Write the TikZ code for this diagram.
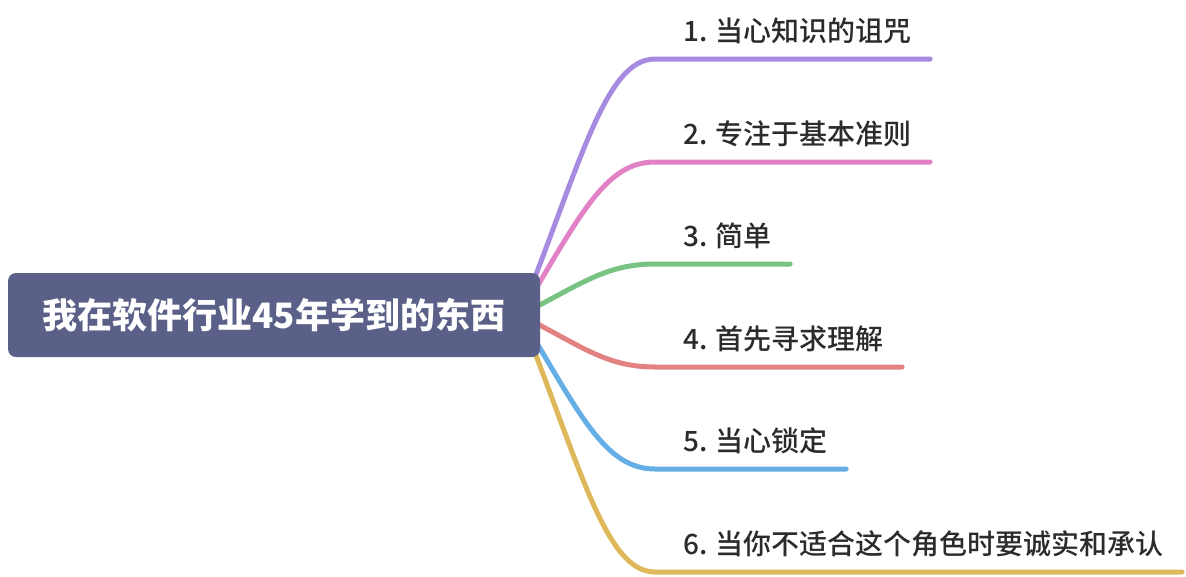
\documentclass[tikz,border=0pt]{standalone}
\usepackage{fontspec}
\setmainfont{Noto Sans CJK SC}
\newfontfamily\topicfont{Noto Sans CJK SC Medium}
\usepackage{xcolor}
\usepackage{tikz}
\usetikzlibrary{calc}

\definecolor{rootblue}{HTML}{5A6087}
\definecolor{topictext}{HTML}{2B2B2B}
\definecolor{brpurple}{HTML}{A68BE0}
\definecolor{brpink}{HTML}{E281C6}
\definecolor{brgreen}{HTML}{78C282}
\definecolor{brred}{HTML}{E28282}
\definecolor{brblue}{HTML}{65AEE6}
\definecolor{brgold}{HTML}{DEB85B}

\pgfdeclarelayer{bg}
\pgfsetlayers{bg,main}

\begin{document}
\begin{tikzpicture}[
  x=1pt, y=1pt,
  rootbox/.style={rectangle, rounded corners=8pt, fill=rootblue, text=white,
                  minimum width=532pt, minimum height=84pt, inner sep=0pt,
                  font=\fontsize{35}{40}\selectfont\bfseries},
  topic/.style={anchor=base west, inner sep=0pt, text=topictext,
                font=\topicfont\fontsize{28}{33}\selectfont},
  branch/.style={line width=5pt, line cap=round, line join=round}
]
\useasboundingbox (0,0) rectangle (1186,-576);

% ── Central topic ──
\node[rootbox] (root) at (274,-315) {我在软件行业45年学到的东西};
\coordinate (hub) at ($(root.east)+(-20,0)$);

% ── Subtopics ──
\node[topic] (t1) at (683,-41)  {1. 当心知识的诅咒};
\node[topic] (t2) at (683,-144) {2. 专注于基本准则};
\node[topic] (t3) at (683,-246) {3. 简单};
\node[topic] (t4) at (683,-349) {4. 首先寻求理解};
\node[topic] (t5) at (683,-451) {5. 当心锁定};
\node[topic] (t6) at (683,-554) {6. 当你不适合这个角色时要诚实和承认};

% ── Branches, behind the central topic ──
\begin{pgfonlayer}{bg}
\draw[branch, brpurple] (hub) .. controls +(60,150) and +(-50,0) ..
  ($(t1.base west)+(-28,-18)$) -- ($(t1.base east)+(18,-18)$);
\draw[branch, brpink] (hub) .. controls +(60,100) and +(-50,0) ..
  ($(t2.base west)+(-28,-18)$) -- ($(t2.base east)+(18,-18)$);
\draw[branch, brgreen] (hub) .. controls +(60,30) and +(-50,0) ..
  ($(t3.base west)+(-28,-18)$) -- ($(t3.base east)+(18,-18)$);
\draw[branch, brred] (hub) .. controls +(60,-30) and +(-50,0) ..
  ($(t4.base west)+(-28,-18)$) -- ($(t4.base east)+(18,-18)$);
\draw[branch, brblue] (hub) .. controls +(60,-100) and +(-50,0) ..
  ($(t5.base west)+(-28,-18)$) -- ($(t5.base east)+(18,-18)$);
\draw[branch, brgold] (hub) .. controls +(60,-150) and +(-50,0) ..
  ($(t6.base west)+(-28,-18)$) -- ($(t6.base east)+(18,-18)$);
\end{pgfonlayer}

\end{tikzpicture}
\end{document}
